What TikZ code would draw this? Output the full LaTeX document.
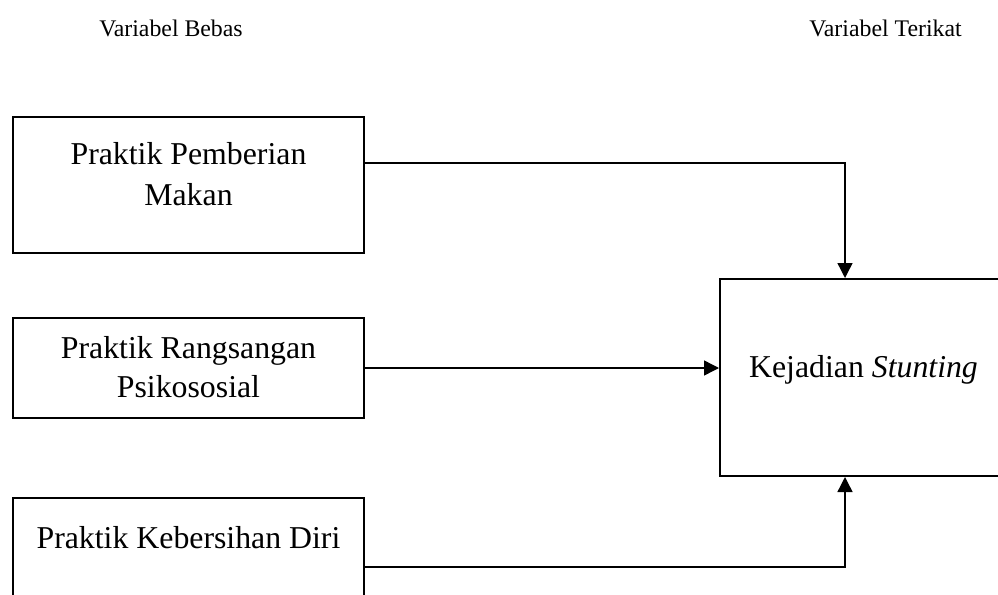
\documentclass[tikz,border=0pt]{standalone}
\usepackage{fontspec}
\setmainfont{Liberation Serif}
\usetikzlibrary{arrows.meta}
\begin{document}
\begin{tikzpicture}[x=1pt,y=-1pt,
  box/.style={draw, line width=2pt, inner sep=0pt},
  arr/.style={line width=1.4pt, -{Triangle[length=15pt,width=15pt]}},
  lbl/.style={font=\fontsize{31.8}{41}\selectfont, anchor=base, inner sep=0pt},
  hdr/.style={font=\fontsize{23.8}{28}\selectfont, anchor=base, inner sep=0pt}]
\useasboundingbox (0,0) rectangle (998,594);
\clip (0,0) rectangle (998,594);
\node[hdr] (h1) at (171,37) {Variabel Bebas};
\node[hdr] (h2) at (885.5,37) {Variabel Terikat};
\node[box, minimum width=351pt, minimum height=136pt] (b1) at (188.5,185) {};
\node[box, minimum width=351pt, minimum height=100pt] (b2) at (188.5,368) {};
\node[box, minimum width=351pt, minimum height=142pt] (b3) at (188.5,569) {};
\node[box, minimum width=287pt, minimum height=197pt] (b4) at (863.5,377.5) {};
\node[lbl] (t1a) at (188.5,164) {Praktik Pemberian};
\node[lbl] (t1b) at (188.5,205) {Makan};
\node[lbl] (t2a) at (188.5,358) {Praktik Rangsangan};
\node[lbl] (t2b) at (188.5,397) {Psikososial};
\node[lbl] (t3) at (188.5,548) {Praktik Kebersihan Diri};
\node[lbl] (t4) at (863.5,377) {Kejadian \textit{Stunting}};
\draw[arr] ([yshift=22pt]b1.east) -| ([xshift=-18.5pt]b4.north);
\draw[arr] (b2.east) -- (b4.west |- b2.east);
\draw[arr] ([yshift=2pt]b3.east) -| ([xshift=-18.5pt]b4.south);
\end{tikzpicture}
\end{document}
